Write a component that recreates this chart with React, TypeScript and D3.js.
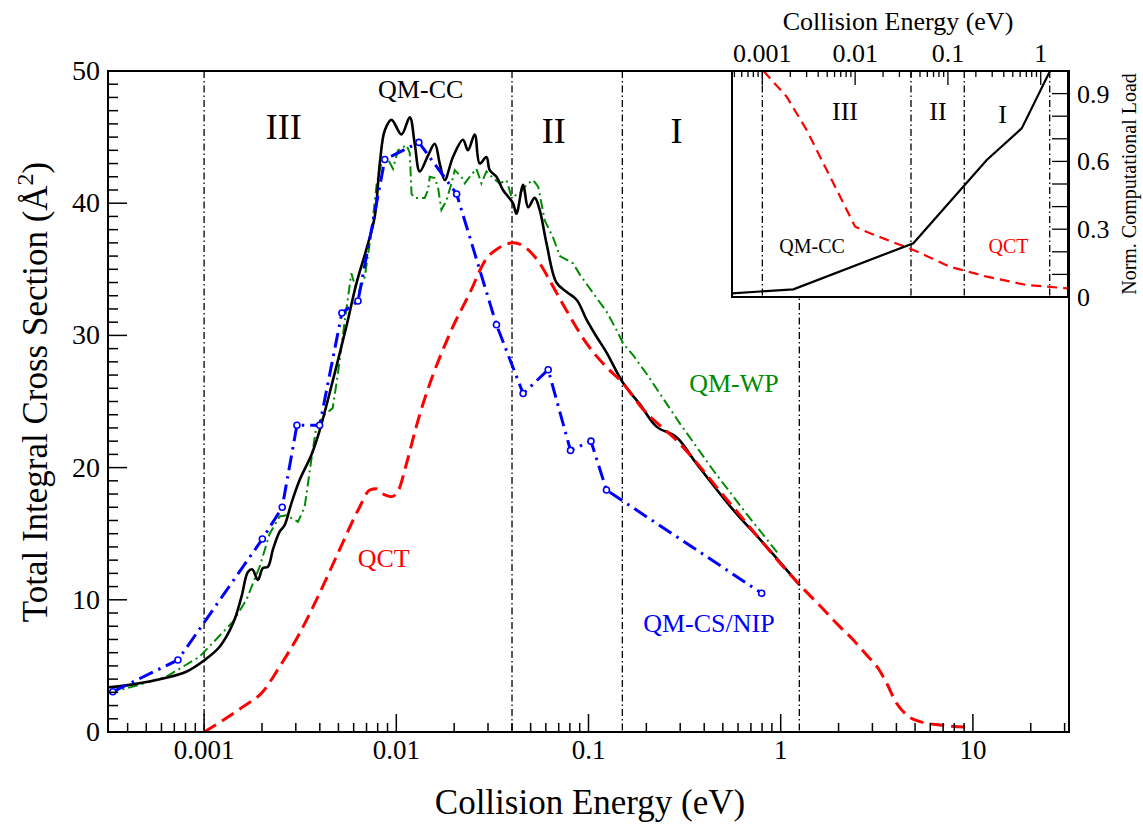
import React from "react";
import * as d3 from "d3";

// ---------- data ----------
const regionBounds = [0.001, 0.04, 0.15, 1.25];
const xTickValues = [0.001, 0.01, 0.1, 1, 10];
const yTickValues = [0, 10, 20, 30, 40, 50];
const insetXTickValues = [0.001, 0.01, 0.1, 1];
const insetYTickValues = [0, 0.3, 0.6, 0.9];

// QM-CC (black solid)
const ccEnergy = [3.19e-4, 4.26e-4, 6.35e-4, 8.07e-4, 1.007e-3, 1.205e-3, 1.413e-3, 1.563e-3, 1.69e-3, 1.782e-3, 1.905e-3, 2.023e-3, 2.148e-3, 2.28e-3, 2.472e-3, 2.624e-3, 2.844e-3, 3.141e-3, 3.614e-3, 3.99e-3, 4.677e-3, 5.495e-3, 6.194e-3, 6.982e-3, 7.727e-3, 8.204e-3, 8.71e-3, 9.441e-3, 1.064e-2, 1.175e-2, 1.247e-2, 1.324e-2, 1.462e-2, 1.585e-2, 1.683e-2, 1.786e-2, 1.972e-2, 2.223e-2, 2.36e-2, 2.559e-2, 2.716e-2, 2.944e-2, 3.062e-2, 3.319e-2, 3.589e-2, 4.046e-2, 4.217e-2, 4.571e-2, 4.853e-2, 5.248e-2, 5.572e-2, 6.039e-2, 6.808e-2, 7.674e-2, 8.67e-2, 9.772e-2, 0.1102, 0.1242, 0.1514, 0.1849, 0.2259, 0.2871, 0.3648, 0.5662, 0.811, 1.256];
const ccSigma = [3.38, 3.6, 4.1, 4.56, 5.45, 6.45, 8.2, 10.2, 12.1, 12.3, 11.5, 12.4, 12.5, 13.8, 15.15, 15.65, 17.3, 19.06, 20.95, 22.8, 26.6, 30.66, 33.9, 36.5, 39.0, 43.0, 45.5, 46.3, 45.2, 46.5, 44.5, 42.4, 43.6, 44.5, 43.0, 41.75, 43.5, 44.8, 44.0, 45.2, 43.0, 43.5, 42.5, 42.0, 41.0, 40.0, 39.2, 41.4, 39.7, 40.4, 39.5, 37.0, 34.0, 33.3, 32.7, 31.2, 29.9, 28.7, 26.4, 24.8, 23.1, 22.3, 20.3, 16.8, 14.3, 11.1];

// QM-WP (green dash-dot)
const wpEnergy = [3.19e-4, 4.26e-4, 6.35e-4, 9.47e-4, 1.413e-3, 1.66e-3, 1.945e-3, 2.193e-3, 2.472e-3, 2.679e-3, 3.079e-3, 3.334e-3, 3.614e-3, 3.837e-3, 4.238e-3, 4.667e-3, 4.955e-3, 5.383e-3, 5.834e-3, 6.145e-3, 6.44e-3, 6.85e-3, 7.45e-3, 7.91e-3, 8.36e-3, 9.06e-3, 9.61e-3, 1.02e-2, 1.13e-2, 1.175e-2, 1.2e-2, 1.247e-2, 1.406e-2, 1.462e-2, 1.493e-2, 1.585e-2, 1.648e-2, 1.717e-2, 1.823e-2, 1.936e-2, 2.014e-2, 2.183e-2, 2.271e-2, 2.41e-2, 2.612e-2, 2.773e-2, 2.944e-2, 3.187e-2, 3.452e-2, 3.741e-2, 3.972e-2, 4.385e-2, 4.753e-2, 5.152e-2, 5.47e-2, 5.572e-2, 5.916e-2, 6.546e-2, 7.095e-2, 8.318e-2, 9.016e-2, 0.1057, 0.1242, 0.14, 0.1514, 0.1706, 0.2004, 0.2985, 0.4453, 0.6642, 0.9817];
const wpSigma = [2.97, 3.43, 4.18, 5.7, 8.34, 10.0, 12.5, 15.0, 16.3, 16.4, 15.9, 17.0, 20.6, 23.1, 24.0, 24.5, 27.0, 31.0, 34.7, 33.6, 33.4, 34.4, 38.0, 41.5, 43.0, 43.3, 42.6, 44.0, 44.4, 43.8, 40.7, 40.4, 40.4, 41.0, 42.0, 41.9, 41.2, 39.5, 40.2, 41.5, 42.5, 42.0, 41.5, 42.0, 42.6, 41.5, 42.4, 41.9, 41.5, 41.75, 40.5, 40.7, 41.4, 41.75, 41.25, 40.7, 38.7, 37.4, 36.0, 35.45, 34.6, 33.2, 31.8, 30.4, 29.4, 28.5, 27.1, 23.35, 19.8, 16.5, 13.4];

// QM-CS/NIP (blue dash-dot with circles)
const nipEnergy = [3.35e-4, 7.31e-4, 2.01e-3, 2.55e-3, 3.04e-3, 3.99e-3, 5.21e-3, 6.32e-3, 8.71e-3, 1.31e-2, 2.06e-2, 3.32e-2, 4.57e-2, 6.17e-2, 8.06e-2, 0.103, 0.124, 0.796];
const nipSigma = [3.05, 5.45, 14.6, 17.0, 23.2, 23.2, 31.7, 32.6, 43.3, 44.6, 40.7, 30.8, 25.6, 27.4, 21.3, 22.0, 18.3, 10.5];

// QCT (red dashed)
const qctEnergy = [1.0e-3, 1.59e-3, 2.02e-3, 2.47e-3, 3.14e-3, 3.99e-3, 5.07e-3, 6.44e-3, 7.26e-3, 7.87e-3, 8.53e-3, 9.42e-3, 1.02e-2, 1.13e-2, 1.27e-2, 1.9e-2, 2.41e-2, 2.94e-2, 3.32e-2, 4.08e-2, 4.75e-2, 5.57e-2, 6.54e-2, 7.67e-2, 9.77e-2, 0.124, 0.151, 0.185, 0.299, 0.566, 1.26, 1.6, 2.03, 2.34, 2.8, 3.22, 3.56, 4.01, 4.52, 5.31, 6.75, 9.86];
const qctSigma = [0, 1.9, 3.05, 4.94, 7.47, 10.5, 13.8, 17.0, 18.3, 18.4, 18.0, 17.8, 18.2, 20.3, 23.1, 30.15, 33.2, 35.8, 36.5, 37.0, 36.6, 35.45, 33.7, 31.9, 29.4, 27.6, 26.4, 24.7, 21.8, 17.0, 11.1, 9.55, 7.97, 7.09, 5.82, 4.8, 3.68, 2.17, 1.29, 0.78, 0.53, 0.35];

// Inset: normalized computational load
const loadCCEnergy = [4.68e-4, 2.16e-3, 4.24e-2, 0.262, 0.624, 1.26];
const loadCC = [0.016, 0.034, 0.238, 0.606, 0.746, 1.0];
const loadQCTEnergy = [1.03e-3, 1.83e-3, 3.0e-3, 4.94e-3, 7.47e-3, 1.0e-2, 1.45e-2, 4.24e-2, 0.105, 0.262, 0.706, 1.98];
const loadQCT = [1.0, 0.886, 0.739, 0.562, 0.415, 0.311, 0.282, 0.208, 0.134, 0.09, 0.053, 0.038];

const FONT = "'Liberation Serif', 'Times New Roman', Times, serif";
const GREEN = "#008b00";
const fmt = (v: number) => (v >= 1 ? String(v) : String(+v.toPrecision(3)));

function zip(a: number[], b: number[]): [number, number][] {
  return a.map((v, i) => [v, b[i]]);
}

function logTicks(lo: number, hi: number) {
  const out: { v: number; major: boolean }[] = [];
  for (let d = -5; d <= 3; d++) {
    for (let k = 1; k <= 9; k++) {
      const v = k * Math.pow(10, d);
      if (v >= lo * 1.0001 && v <= hi * 0.9999) out.push({ v, major: k === 1 });
    }
  }
  return out;
}

export default function App() {
  const M = { left: 108, right: 1069, top: 71, bottom: 732 };
  const x = d3.scaleLog().domain([Math.pow(10, -3.5), Math.pow(10, 1.5)]).range([M.left, M.right]);
  const y = d3.scaleLinear().domain([0, 50]).range([M.bottom, M.top]);

  const I = { left: 732, right: 1068, top: 71, bottom: 297 };
  const xi = d3.scaleLog().domain([Math.pow(10, -3.327), Math.pow(10, 0.294)]).range([I.left, I.right]);
  const yi = d3.scaleLinear().domain([0, 1]).range([I.bottom, I.top]);

  const lineLinear = d3.line<[number, number]>().x((d) => x(d[0])).y((d) => y(d[1]));
  const lineSmooth = d3
    .line<[number, number]>()
    .x((d) => x(d[0]))
    .y((d) => y(d[1]))
    .curve(d3.curveCatmullRom.alpha(0.5));
  const lineMono = d3
    .line<[number, number]>()
    .x((d) => x(d[0]))
    .y((d) => y(d[1]))
    .curve(d3.curveMonotoneX);
  const lineInset = d3.line<[number, number]>().x((d) => xi(d[0])).y((d) => yi(d[1]));

  const ccData = zip(ccEnergy, ccSigma);
  const wpData = zip(wpEnergy, wpSigma);
  const nipData = zip(nipEnergy, nipSigma);
  const qctData = zip(qctEnergy, qctSigma);

  const xTicksMain = logTicks(x.domain()[0], x.domain()[1]);
  const xTicksInset = logTicks(xi.domain()[0], xi.domain()[1]);
  const yMinor = d3.range(1, 50, 1);
  const yiTicks = d3.range(1, 10, 1).map((v) => v / 10);

  const vDash = "7,3,1.5,3";

  return (
    <svg
      width={1143}
      height={825}
      style={{ display: "block", background: "#fff", position: "absolute", left: 0, top: 0 }}
      fontFamily={FONT}
    >
      <defs>
        <clipPath id="mainClip">
          <rect x={M.left} y={M.top} width={M.right - M.left} height={M.bottom - M.top} />
        </clipPath>
        <clipPath id="insetClip">
          <rect x={I.left} y={I.top} width={I.right - I.left} height={I.bottom - I.top} />
        </clipPath>
      </defs>
      <rect x={0} y={0} width={1143} height={825} fill="#fff" />

      {/* region separators */}
      {regionBounds.map((b) => (
        <line key={"rb" + b} x1={x(b)} x2={x(b)} y1={M.top} y2={M.bottom} stroke="#000" strokeWidth={1.3} strokeDasharray={vDash} />
      ))}

      {/* curves */}
      <g clipPath="url(#mainClip)" fill="none">
        <path d={lineLinear(wpData) || ""} stroke={GREEN} strokeWidth={2} strokeDasharray="10,4,2,4" />
        <path d={lineSmooth(ccData) || ""} stroke="#000" strokeWidth={2.6} />
        <path d={lineMono(qctData) || ""} stroke="#ff0000" strokeWidth={3} strokeDasharray="14,7" />
        <path d={lineLinear(nipData) || ""} stroke="#0000ff" strokeWidth={3} strokeDasharray="15,6,2.5,6" />
        {nipData.map((d, i) => (
          <circle key={"c" + i} cx={x(d[0])} cy={y(d[1])} r={3} fill="#fff" stroke="#0000ff" strokeWidth={1.6} />
        ))}
      </g>

      {/* main frame */}
      <rect x={M.left} y={M.top} width={M.right - M.left} height={M.bottom - M.top} fill="none" stroke="#000" strokeWidth={2} />

      {/* x ticks (inward) */}
      {xTicksMain.map((t, i) => (
        <line key={"xt" + i} x1={x(t.v)} x2={x(t.v)} y1={M.bottom} y2={M.bottom - (t.major ? 18 : 9)} stroke="#000" strokeWidth={1.5} />
      ))}
      {xTickValues.map((v) => (
        <text key={"xl" + v} x={x(v)} y={759} fontSize={27} textAnchor="middle">
          {fmt(v)}
        </text>
      ))}
      {/* y ticks */}
      {yTickValues.map((v) => (
        <line key={"ytM" + v} x1={M.left} x2={M.left + 19} y1={y(v)} y2={y(v)} stroke="#000" strokeWidth={1.5} />
      ))}
      {yMinor
        .filter((v) => v % 10 !== 0)
        .map((v) => (
          <line key={"ytm" + v} x1={M.left} x2={M.left + 10} y1={y(v)} y2={y(v)} stroke="#000" strokeWidth={1.5} />
        ))}
      {yTickValues.map((v) => (
        <text key={"yl" + v} x={100} y={y(v) + 9} fontSize={28} textAnchor="end">
          {v}
        </text>
      ))}

      {/* axis titles */}
      <text x={590} y={814} fontSize={35} textAnchor="middle">
        Collision Energy (eV)
      </text>
      <text transform="translate(47,392) rotate(-90)" fontSize={35} textAnchor="middle">
        Total Integral Cross Section (Å
        <tspan fontSize={24} dy={-14}>2</tspan>
        <tspan dy={14}>)</tspan>
      </text>

      {/* region labels */}
      <text x={x(2.6e-3)} y={y(44.86)} fontSize={36} textAnchor="middle">III</text>
      <text x={x(0.0659)} y={y(44.55)} fontSize={36} textAnchor="middle">II</text>
      <text x={x(0.287)} y={y(44.55)} fontSize={36} textAnchor="middle">I</text>

      {/* series labels */}
      <text x={x(0.0134)} y={y(47.96)} fontSize={26} textAnchor="middle" fill="#000">QM-CC</text>
      <text x={x(0.571)} y={y(25.74)} fontSize={26} textAnchor="middle" fill={GREEN}>QM-WP</text>
      <text x={x(0.423)} y={y(7.59)} fontSize={26} textAnchor="middle" fill="#0000ff">QM-CS/NIP</text>
      <text x={x(8.6e-3)} y={y(12.5)} fontSize={26} textAnchor="middle" fill="#ff0000">QCT</text>

      {/* ---------- inset ---------- */}
      <rect x={I.left} y={I.top} width={I.right - I.left} height={I.bottom - I.top} fill="#fff" />
      {regionBounds.map((b) => (
        <line key={"ib" + b} x1={xi(b)} x2={xi(b)} y1={I.top} y2={I.bottom} stroke="#000" strokeWidth={1.3} strokeDasharray={vDash} />
      ))}
      <g clipPath="url(#insetClip)" fill="none">
        <path d={lineInset(zip(loadQCTEnergy, loadQCT)) || ""} stroke="#ff0000" strokeWidth={2.2} strokeDasharray="10,6" />
        <path d={lineInset(zip(loadCCEnergy, loadCC)) || ""} stroke="#000" strokeWidth={2.2} />
      </g>
      <rect x={I.left} y={I.top} width={I.right - I.left} height={I.bottom - I.top} fill="none" stroke="#000" strokeWidth={2} />
      {xTicksInset.map((t, i) => (
        <line key={"ixt" + i} x1={xi(t.v)} x2={xi(t.v)} y1={I.top} y2={I.top + (t.major ? 14 : 6)} stroke="#000" strokeWidth={1.3} />
      ))}
      {insetXTickValues.map((v) => (
        <text key={"ixl" + v} x={xi(v)} y={62} fontSize={26} textAnchor="middle">
          {fmt(v)}
        </text>
      ))}
      {yiTicks.map((v) => (
        <line key={"iyt" + v} x1={I.right} x2={I.right - 16} y1={yi(v)} y2={yi(v)} stroke="#000" strokeWidth={1.3} />
      ))}
      {insetYTickValues.map((v) => (
        <text key={"iyl" + v} x={1077} y={yi(v) + 9} fontSize={26} textAnchor="start">
          {fmt(v)}
        </text>
      ))}
      <text x={898} y={30} fontSize={26} textAnchor="middle">Collision Energy (eV)</text>
      <text transform="translate(1136,184) rotate(-90)" fontSize={20} textAnchor="middle">Norm. Computational Load</text>

      <text x={xi(7.78e-3)} y={yi(0.783)} fontSize={26} textAnchor="middle">III</text>
      <text x={xi(0.0782)} y={yi(0.783)} fontSize={26} textAnchor="middle">II</text>
      <text x={xi(0.387)} y={yi(0.77)} fontSize={26} textAnchor="middle">I</text>
      <text x={xi(3.44e-3)} y={yi(0.193)} fontSize={20} textAnchor="middle" fill="#000">QM-CC</text>
      <text x={xi(0.45)} y={yi(0.195)} fontSize={20} textAnchor="middle" fill="#ff0000">QCT</text>
    </svg>
  );
}
